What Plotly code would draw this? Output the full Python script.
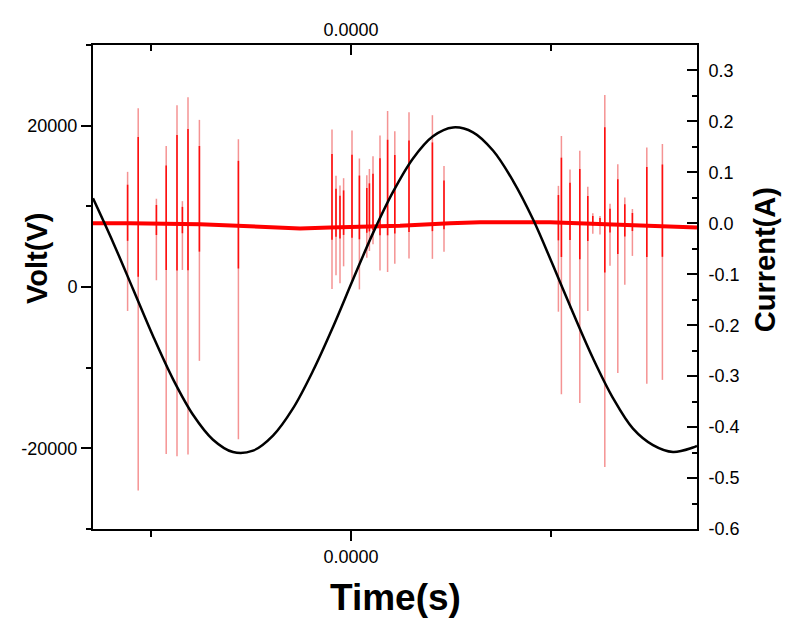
import numpy as np
import plotly.graph_objects as go

# Voltage trace (black)
volt_t = [-0.0129, -0.0119, -0.0109, -0.0099, -0.0089, -0.0079, -0.0069, -0.0059,
          -0.0049, -0.0039, -0.0029, -0.0019, -0.0009, 0.0001, 0.0011, 0.0021,
          0.0031, 0.0041, 0.0051, 0.0061, 0.0071, 0.0081, 0.0091, 0.0101,
          0.0111, 0.0121, 0.0131, 0.0141, 0.0151, 0.0161, 0.0171, 0.0173]
volt_v = [11000, 5560, -250, -6080, -11420, -15840, -18930, -20460,
          -20290, -18420, -15050, -10390, -4950, 930, 6680, 11790,
          15940, 18690, 19780, 19180, 16920, 13170, 8400, 2690,
          -3200, -8840, -13770, -17560, -19600, -20450, -19900, -19700]

# Current baseline (red)
base_t = [-0.0129, -0.01105, -0.00755, -0.00555, -0.00255, -0.00105,
          0.00245, 0.00495, 0.00645, 0.00995, 0.01345, 0.0173]
base_i = [0.000, 0.000, -0.002, -0.005, -0.010, -0.008,
          -0.005, 0.000, 0.002, 0.002, -0.002, -0.008]

# Discharge spikes: time, positive peak, negative peak
spike_t = [-0.01117, -0.01064, -0.00973, -0.00924, -0.0087, -0.00843, -0.00815, -0.00758, -0.00563,
           -0.00095, -0.00075, -0.00055, -0.00037, 0.00005, 0.00042, 0.00079, 0.00092, 0.0011,
           0.00145, 0.00183, 0.00219, 0.0029, 0.00407, 0.00465,
           0.01037, 0.01052, 0.01095, 0.01144, 0.01184, 0.01209, 0.01245, 0.01269, 0.01295,
           0.01334, 0.01369, 0.01407, 0.01479, 0.01557]
spike_up = [0.101, 0.226, 0.049, 0.153, 0.233, 0.045, 0.249, 0.205, 0.170,
            0.192, 0.101, 0.082, 0.096, 0.189, 0.134, 0.101, 0.113, 0.138,
            0.178, 0.226, 0.186, 0.222, 0.214, 0.113,
            0.072, 0.170, 0.105, 0.142, 0.072, 0.020, 0.015, 0.253, 0.040,
            0.118, 0.053, 0.031, 0.153, 0.161]
spike_down = [-0.172, -0.524, -0.111, -0.452, -0.456, -0.090, -0.452, -0.268, -0.419,
              -0.121, -0.094, -0.110, -0.077, -0.107, -0.123, -0.061, -0.048, -0.035,
              -0.087, -0.090, -0.074, -0.065, -0.068, -0.055,
              -0.175, -0.337, -0.168, -0.353, -0.172, -0.020, -0.021, -0.477, -0.082,
              -0.292, -0.118, -0.061, -0.311, -0.302]

x_ticks = [0]
x_ticktext = ["0.0000"]
volt_ticks = [-20000, 0, 20000]
volt_ticktext = ["-20000", "0", "20000"]
cur_ticks = [-0.6, -0.5, -0.4, -0.3, -0.2, -0.1, 0.0, 0.1, 0.2, 0.3]
cur_ticktext = ["-0.6", "-0.5", "-0.4", "-0.3", "-0.2", "-0.1", "0.0", "0.1", "0.2", "0.3"]

FONT = "Liberation Sans"
X_RANGE = [-0.0129, 0.0173]


# Build vertical segments for the spikes, separated by None
def spike_segments(up_frac, down_frac):
    xs, ys = [], []
    for t, up, dn in zip(spike_t, spike_up, spike_down):
        b = float(np.interp(t, base_t, base_i))
        xs += [t, t, None]
        ys += [b + up * up_frac, b + dn * down_frac, None]
    return xs, ys


def build_figure():
    fig = go.Figure()

    # faint full-length spikes
    sx, sy = spike_segments(1.0, 1.0)
    fig.add_trace(go.Scatter(x=sx, y=sy, mode="lines", xaxis="x", yaxis="y",
                             line=dict(color="rgba(235,40,40,0.5)", width=1.5),
                             hoverinfo="skip", showlegend=False))
    # brighter cores near the baseline
    cx, cy = spike_segments(0.75, 0.2)
    fig.add_trace(go.Scatter(x=cx, y=cy, mode="lines", xaxis="x", yaxis="y",
                             line=dict(color="rgba(255,0,0,0.9)", width=1.6),
                             hoverinfo="skip", showlegend=False))
    # baseline current
    fig.add_trace(go.Scatter(x=base_t, y=base_i, mode="lines", xaxis="x", yaxis="y",
                             line=dict(color="#ff0000", width=4), showlegend=False))
    # voltage on top
    fig.add_trace(go.Scatter(x=volt_t, y=volt_v, mode="lines", xaxis="x2", yaxis="y2",
                             line=dict(color="black", width=2.5, shape="spline"),
                             showlegend=False))

    tick_font = dict(family=FONT, size=18, color="black")
    common = dict(showline=True, linecolor="black", linewidth=2, showgrid=False,
                  zeroline=False, tickcolor="black", tickwidth=2, tickfont=tick_font)

    # page has an 8px body margin, so the figure is a bit smaller than the window
    fig.update_layout(
        width=784, height=623,
        margin=dict(l=85, r=95, t=35, b=102),
        paper_bgcolor="white", plot_bgcolor="white",
        xaxis=dict(range=X_RANGE, tickvals=x_ticks, ticktext=x_ticktext,
                   ticks="outside", ticklen=10,
                   minor=dict(dtick=0.01, tick0=0, ticks="outside", ticklen=6,
                              tickcolor="black", tickwidth=2),
                   anchor="y", **common),
        xaxis2=dict(range=X_RANGE, tickvals=x_ticks, ticktext=x_ticktext,
                    ticks="inside", ticklen=10, side="top", overlaying="x",
                    minor=dict(dtick=0.01, tick0=0, ticks="inside", ticklen=6,
                               tickcolor="black", tickwidth=2),
                    anchor="y2", **common),
        yaxis=dict(range=[-0.6, 0.35], side="right", tickvals=cur_ticks,
                   ticktext=cur_ticktext, ticks="inside", ticklen=10,
                   ticklabelstandoff=6,
                   minor=dict(dtick=0.05, tick0=0, ticks="inside", ticklen=5,
                              tickcolor="black", tickwidth=2),
                   anchor="x", **common),
        yaxis2=dict(range=[-30000, 30000], side="left", overlaying="y",
                    tickvals=volt_ticks, ticktext=volt_ticktext,
                    ticks="outside", ticklen=10,
                    minor=dict(dtick=10000, tick0=0, ticks="outside", ticklen=5,
                               tickcolor="black", tickwidth=2),
                    anchor="x2", **common),
    )

    title_font = dict(family=FONT, size=29, color="black")
    anchors = dict(xref="paper", yref="paper", xanchor="center", yanchor="middle",
                   showarrow=False)
    fig.add_annotation(text="<b>Volt(V)</b>", x=-0.092, y=0.559, textangle=-90,
                       font=title_font, **anchors)
    fig.add_annotation(text="<b>Current(A)</b>", x=1.113, y=0.556, textangle=-90,
                       font=title_font, **anchors)
    fig.add_annotation(text="<b>Time(s)</b>", x=0.5, y=-0.142,
                       font=dict(family=FONT, size=37, color="black"), **anchors)
    return fig


def main():
    fig = build_figure()
    fig.write_html("out.html")


if __name__ == "__main__":
    main()
